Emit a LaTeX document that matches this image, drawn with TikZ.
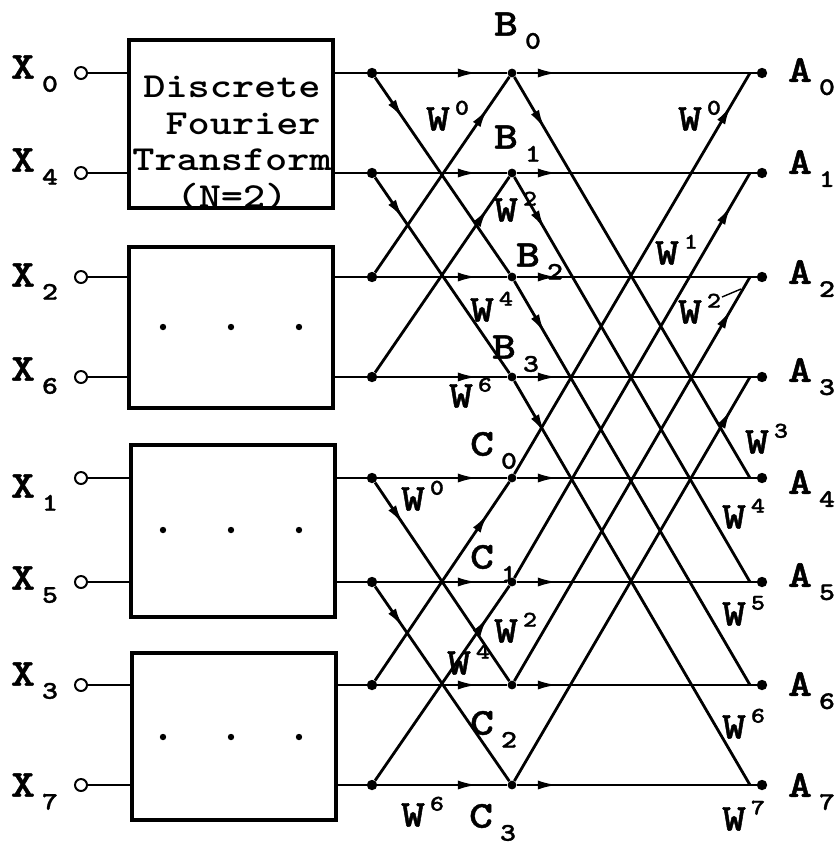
\documentclass[tikz,border=0pt]{standalone}
\usepackage{fontspec}
\newfontfamily\cmono{lmmonolt10-bold.otf}[FakeStretch=1.2, FakeBold=1.2]
\newfontfamily\cmonobox{lmmonolt10-bold.otf}[FakeStretch=1.2]
\usetikzlibrary{arrows.meta,decorations.markings}

% letter with lowered / raised index, index takes no room
\newcommand{\lsub}[2]{#1\rlap{\hspace{5pt}\smash{\raisebox{-9.3pt}{\fontsize{18}{18}\selectfont #2}}}}
\newcommand{\lsup}[2]{#1\rlap{\hspace{3.5pt}\smash{\raisebox{11.2pt}{\fontsize{16}{16}\selectfont #2}}}}

\begin{document}
\begin{tikzpicture}[
    x=0.25mm, y=-0.25mm,
    font=\cmono\fontsize{27}{28}\selectfont,
    dft/.style={
        draw,
        line width=2.4pt,
        minimum width=51mm,
        inner sep=0pt
    },
    port/.style={
        draw, circle,
        line width=1.4pt,
        fill=white,
        minimum size=3mm,
        inner sep=0pt
    },
    joint/.style={circle, fill, minimum size=2.6mm, inner sep=0pt},
    lab/.style={inner sep=0pt},
    wire/.style={line width=2pt},
    flow/.style={
        wire,
        postaction={decorate},
        decoration={markings,
            mark=at position #1 with {\arrow{Latex[length=14pt,width=6.5pt]}}}
    }
]
    \useasboundingbox (0,0) rectangle (835,845);

    % the four N=2 transforms
    \node[dft, minimum height=42mm] (dft1) at (231,124) {};
    \node[dft, minimum height=40.25mm] (dft2) at (231,327.5) {};
    \node[dft, minimum height=43mm] (dft3) at (233,531) {};
    \node[dft, minimum height=41.75mm] (dft4) at (234,736.5) {};

    \node[lab, align=center, font=\cmonobox\fontsize{25}{26}\selectfont] (dfttext) at (232,143)
        {Discrete\\\hphantom{x}Fourier\\Transform\\(N=2)};

    \foreach \p in {163,231,299} {
        \node[joint, minimum size=1.6mm] (pa\p) at (\p,327) {};
        \node[joint, minimum size=1.6mm] (pb\p) at (\p,530) {};
        \node[joint, minimum size=1.6mm] (pc\p) at (\p,737) {};
    }

    % rows: row / y / input index / label y / box
    \foreach \r/\y/\n/\ly/\k in {0/73/0/67/1, 1/173/4/160/1, 2/277/2/275/2, 3/377/6/369/2,
                                 4/478/1/486/3, 5/582/5/578/3, 6/685/3/674/4, 7/785/7/785/4} {
        \node[port] (i\r) at (81,\y) {};
        \node[joint] (d\r) at (372,\y) {};
        \node[joint] (a\r) at (762,\y) {};
        \coordinate (j\r) at (750,\y);
        \node[lab] (lx\r) at (23,\ly) {\lsub{X}{\n}};
        \draw[wire] (i\r) -- (i\r -| dft\k.west);
        \draw[wire] (d\r -| dft\k.east) -- (d\r);
    }

    % second stage points
    \node[joint, minimum size=2.2mm] (b0) at (512,73) {};
    \node[joint, minimum size=2.2mm] (b1) at (512,173) {};
    \node[joint, minimum size=2.2mm] (b2) at (512,277) {};
    \node[joint, minimum size=2.2mm] (b3) at (512,377) {};
    \node[joint, minimum size=2.2mm] (c0) at (512,478) {};
    \node[joint, minimum size=2.2mm] (c1) at (512,582) {};
    \node[joint, minimum size=2.2mm] (c2) at (512,685) {};
    \node[joint, minimum size=2.2mm] (c3) at (512,785) {};

    % second stage
    \foreach \r/\m in {0/b0, 1/b1, 2/b2, 3/b3, 4/c0, 5/c1, 6/c2, 7/c3} {
        \draw[flow=0.77] (d\r) -- (\m);
        \draw[flow=0.17] (\m) -- (a\r);
    }
    \foreach \s/\m in {0/b2, 1/b3, 4/c2, 5/c3}
        \draw[flow=0.21] (d\s) -- (\m);
    \foreach \s/\m in {2/b0, 3/b1, 6/c0, 7/c1}
        \draw[flow=0.84] (d\s) -- (\m);

    % last stage
    \foreach \k/\e in {0/4, 1/5, 2/6, 3/7} {
        \draw[flow=0.13] (b\k) -- (j\e);
        \draw[flow=0.92] (c\k) -- (j\k);
    }

    % labels
    \node[lab] (lb0) at (506,24) {\lsub{B}{0}};
    \node[lab] (lb1) at (506,137) {\lsub{B}{1}};
    \node[lab] (lb2) at (528,255) {\lsub{B}{2}};
    \node[lab] (lb3) at (504,347) {\lsub{B}{3}};
    \node[lab] (lc0) at (482,444) {\lsub{C}{0}};
    \node[lab] (lc1) at (482,557) {\lsub{C}{1}};
    \node[lab] (lc2) at (482,723) {\lsub{C}{2}};
    \node[lab] (lc3) at (481,816) {\lsub{C}{3}};

    \foreach \r/\ly in {0/70, 1/162, 2/272, 3/370, 4/482, 5/575, 6/684, 7/785}
        \node[lab] (la\r) at (800,\ly) {\lsub{A}{\r}};

    \node[lab] (wb0) at (438,119) {\lsup{W}{0}};
    \node[lab] (wb2) at (506,210) {\lsup{W}{2}};
    \node[lab] (wb4) at (482,310) {\lsup{W}{4}};
    \node[lab] (wb6) at (461,396) {\lsup{W}{6}};
    \node[lab] (wc0) at (413,499) {\lsup{W}{0}};
    \node[lab] (wc2) at (506,631) {\lsup{W}{2}};
    \node[lab] (wc4) at (459,663) {\lsup{W}{4}};
    \node[lab] (wc6) at (413,815) {\lsup{W}{6}};

    \node[lab] (wa0) at (690,119) {\lsup{W}{0}};
    \node[lab] (wa1) at (667,253) {\lsup{W}{1}};
    \node[lab] (wa2) at (690,312) {\lsup{W}{2}};
    \node[lab] (wa3) at (757,442) {\lsup{W}{3}};
    \node[lab] (wa4) at (734,517) {\lsup{W}{4}};
    \node[lab] (wa5) at (734,614) {\lsup{W}{5}};
    \node[lab] (wa6) at (734,727) {\lsup{W}{6}};
    \node[lab] (wa7) at (734,819) {\lsup{W}{7}};

    \coordinate (tk1) at (722,297);
    \coordinate (tk2) at (741,289);
    \draw[line width=1pt] (tk1) -- (tk2);

\end{tikzpicture}
\end{document}
